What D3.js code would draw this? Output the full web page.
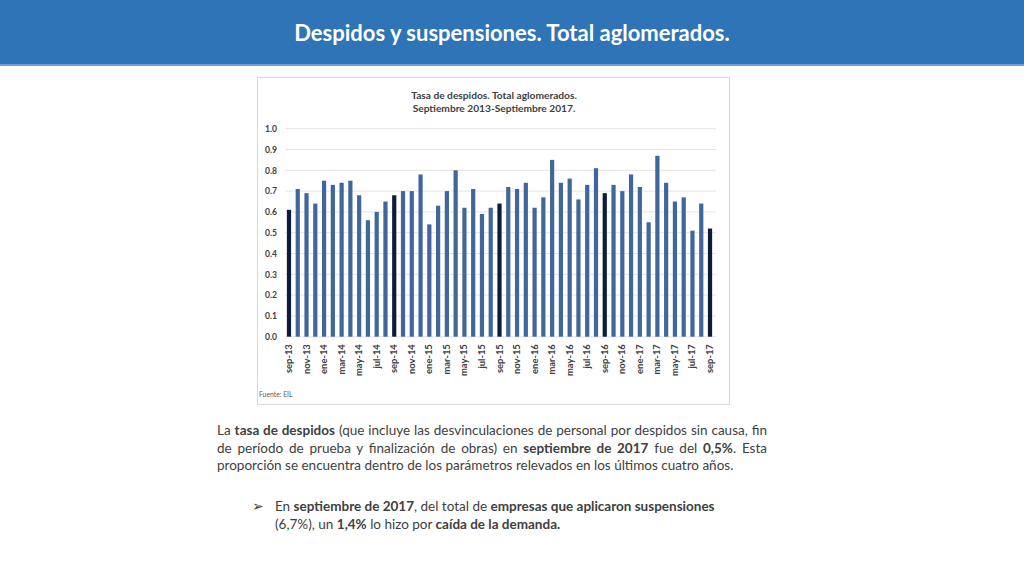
<!DOCTYPE html>
<html><head><meta charset="utf-8">
<script src="https://cdn.jsdelivr.net/npm/d3@7"></script>
<style>body{margin:0;background:#fff}svg{display:block}</style>
</head><body><svg id="c" width="1024" height="576"></svg>
<script>
const months = ["sep-13","oct-13","nov-13","dic-13","ene-14","feb-14","mar-14","abr-14","may-14","jun-14","jul-14","ago-14",
"sep-14","oct-14","nov-14","dic-14","ene-15","feb-15","mar-15","abr-15","may-15","jun-15","jul-15","ago-15",
"sep-15","oct-15","nov-15","dic-15","ene-16","feb-16","mar-16","abr-16","may-16","jun-16","jul-16","ago-16",
"sep-16","oct-16","nov-16","dic-16","ene-17","feb-17","mar-17","abr-17","may-17","jun-17","jul-17","ago-17","sep-17"];
const tasa = [0.61,0.71,0.69,0.64,0.75,0.73,0.74,0.75,0.68,0.56,0.60,0.65,
0.68,0.70,0.70,0.78,0.54,0.63,0.70,0.80,0.62,0.71,0.59,0.62,
0.64,0.72,0.71,0.74,0.62,0.67,0.85,0.74,0.76,0.66,0.73,0.81,
0.69,0.73,0.70,0.78,0.72,0.55,0.87,0.74,0.65,0.67,0.51,0.64,0.52];
const tickLabels = ["sep-13","nov-13","ene-14","mar-14","may-14","jul-14","sep-14","nov-14","ene-15","mar-15","may-15","jul-15",
"sep-15","nov-15","ene-16","mar-16","may-16","jul-16","sep-16","nov-16","ene-17","mar-17","may-17","jul-17","sep-17"];
const yTicks = [0,0.1,0.2,0.3,0.4,0.5,0.6,0.7,0.8,0.9,1.0];
const pageTitle = "Despidos y suspensiones. Total aglomerados.";
const chartTitle = ["Tasa de despidos. Total aglomerados.","Septiembre 2013-Septiembre 2017."];
const source = "Fuente: EIL";
const paragraph = [
  [["La ",0],["tasa de despidos",1],[" (que incluye las desvinculaciones de personal por despidos sin causa, fin",0]],
  [["de período de prueba y finalización de obras) en ",0],["septiembre de 2017",1],[" fue del ",0],["0,5%",1],[". Esta",0]],
  [["proporción se encuentra dentro de los parámetros relevados en los últimos cuatro años.",0]]
];
const bullet = [
  [["En ",0],["septiembre de 2017",1],[", del total de ",0],["empresas que aplicaron suspensiones",1]],
  [["(6,7%), un ",0],["1,4%",1],[" lo hizo por ",0],["caída de la demanda.",1]]
];

const svg = d3.select("#c");
const F = "Lato, 'Open Sans', sans-serif";
svg.append("rect").attr("width",1024).attr("height",576).attr("fill","#fff");
// header
svg.append("rect").attr("x",0).attr("y",0).attr("width",1024).attr("height",65).attr("fill","#2E74B6");
svg.append("rect").attr("x",0).attr("y",64).attr("width",1024).attr("height",2).attr("fill","#6A9FD4");
svg.append("text").attr("x",512).attr("y",40.5).attr("text-anchor","middle")
  .attr("font-family",F).attr("font-weight","bold").attr("font-size",22).attr("fill","#fff").text(pageTitle);

// chart frame
svg.append("rect").attr("x",257.5).attr("y",77.5).attr("width",472).attr("height",327)
  .attr("fill","#fff").attr("stroke","#D9D9D9");
const ct = svg.append("g").attr("font-family",F).attr("font-weight","bold").attr("font-size",10.2)
  .attr("fill","#404040").attr("text-anchor","middle");
chartTitle.forEach((t,i)=>ct.append("text").attr("x",494).attr("y",98.5+i*13).text(t));

const x = d3.scaleBand().domain(months).range([284.6,714.4]).paddingInner(0.52).paddingOuter(0.26);
const y = d3.scaleLinear().domain([0,1]).range([336.7,128.7]);

const grid = svg.append("g");
grid.selectAll("line").data(yTicks).join("line")
  .attr("x1",285).attr("x2",716).attr("y1",d=>y(d)).attr("y2",d=>y(d))
  .attr("stroke","#E4E4E4").attr("stroke-width",1);

const yAxis = svg.append("g").attr("transform","translate(285,0)")
  .call(d3.axisLeft(y).tickValues(yTicks).tickFormat(d3.format(".1f")).tickSize(0).tickPadding(8));
yAxis.select(".domain").remove();
yAxis.selectAll("text").attr("font-family",F).attr("font-weight","bold").attr("font-size",8.6).attr("fill","#404040");

svg.append("g").selectAll("rect").data(months).join("rect")
  .attr("x",d=>x(d)).attr("width",x.bandwidth())
  .attr("y",(d,i)=>y(tasa[i])).attr("height",(d,i)=>y(0)-y(tasa[i]))
  .attr("fill",d=>d.startsWith("sep")?"#0E1B3B":"#41669B");

const xAxis = svg.append("g").attr("transform",`translate(0,${y(0)})`)
  .call(d3.axisBottom(x).tickValues(tickLabels).tickSize(0).tickPadding(0));
xAxis.select(".domain").remove();
xAxis.selectAll("text").attr("font-family",F).attr("font-weight","bold").attr("font-size",9.4).attr("fill","#404040")
  .attr("text-anchor","end").attr("transform","rotate(-90)").attr("x",-7.5).attr("y",0).attr("dy","0.32em");

svg.append("text").attr("x",259).attr("y",396.5).attr("font-family",F).attr("font-size",6.8).attr("fill","#595959").text(source);

// body text
function line(parts, x0, yb, size, justifyWidth){
  const t = svg.append("text").attr("x",x0).attr("y",yb).attr("font-family",F).attr("font-size",size).attr("fill","#404040")
    .attr("xml:space","preserve");
  parts.forEach(p=>t.append("tspan").attr("font-weight",p[1]?"bold":"normal").text(p[0]));
  if(justifyWidth){
    const w = t.node().getComputedTextLength();
    const n = parts.map(p=>p[0]).join("").split(" ").length-1;
    t.attr("word-spacing",(justifyWidth-w)/n);
  }
  return t;
}
paragraph.forEach((p,i)=>line(p,217,435+i*17.5,13.5,i<2?550:null));
svg.append("text").attr("x",252).attr("y",511).attr("font-family","'DejaVu Sans'").attr("font-size",14).attr("fill","#404040").text("➢");
bullet.forEach((p,i)=>line(p,275,511+i*17.5,13.5,null));
</script></body></html>
